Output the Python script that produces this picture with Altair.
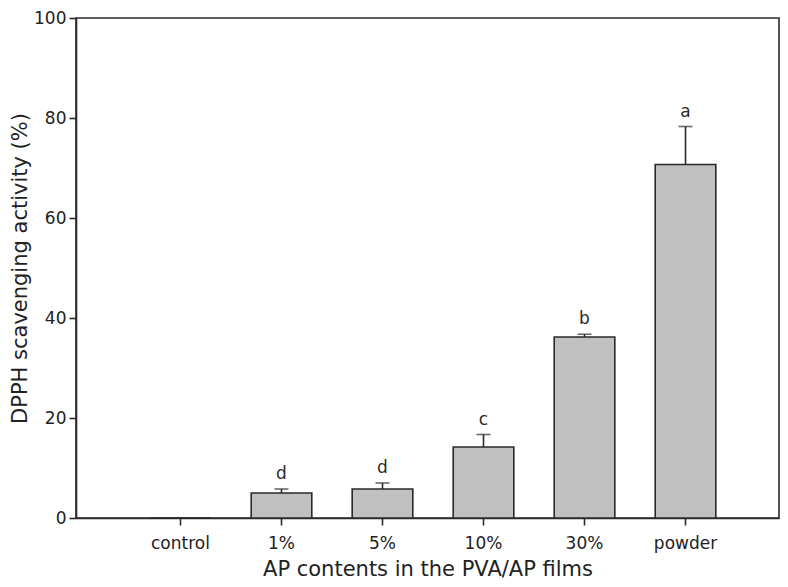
import altair as alt
import pandas as pd

categories = ["control", "1%", "5%", "10%", "30%", "powder"]
means = [0.0, 5.0, 5.8, 14.2, 36.2, 70.7]
errors = [0.0, 0.8, 1.2, 2.5, 0.55, 7.6]
letters = ["", "d", "d", "c", "b", "a"]

df = pd.DataFrame({"cat": categories, "mean": means, "err": errors, "letter": letters})
df["top"] = df["mean"] + df["err"]

FONT = "DejaVu Sans"
INK = "#2a2a2a"

x = alt.X("cat:N", sort=categories,
          scale=alt.Scale(paddingInner=0.4, paddingOuter=0.68, align=0.54),
          axis=alt.Axis(title="AP contents in the PVA/AP films", labelAngle=0,
                        tickSize=7, labelPadding=10, titlePadding=7,
                        labelFontSize=17, titleFontSize=21))
y = alt.Y("mean:Q", scale=alt.Scale(domain=[0, 100], nice=False),
          axis=alt.Axis(title="DPPH scavenging activity (%)", values=[0, 20, 40, 60, 80, 100],
                        tickSize=7, labelPadding=3, titlePadding=3, grid=False,
                        labelFontSize=17, titleFontSize=21))

base = alt.Chart(df)

bars = base.mark_bar(color="#c0c0c0", stroke=INK, strokeWidth=1.6).encode(x=x, y=y)

err_df = base.transform_filter("datum.err > 0")
rules = err_df.mark_rule(color=INK, strokeWidth=1.6).encode(
    x=alt.X("cat:N", sort=categories), y="mean:Q", y2="top:Q")
caps = err_df.mark_tick(color=INK, thickness=1.6, size=14, orient="horizontal").encode(
    x=alt.X("cat:N", sort=categories), y="top:Q")
labels = err_df.mark_text(font=FONT, fontSize=17, color=INK, baseline="bottom", dy=-6).encode(
    x=alt.X("cat:N", sort=categories), y="top:Q", text="letter:N")

chart = alt.layer(bars, rules, caps, labels).properties(
    width=703, height=500,
    autosize=alt.AutoSizeParams(type="none"),
    padding={"left": 68, "top": 10, "right": 1, "bottom": 61},
).configure_view(
    stroke=INK, strokeWidth=1.6
).configure_axis(
    labelFont=FONT, titleFont=FONT, labelColor="#222", titleColor="#222",
    domainColor=INK, tickColor=INK, domainWidth=1.6, tickWidth=1.6,
    titleFontWeight="normal"
)

chart.save("out.html", embed_options={"renderer": "svg", "actions": False})
